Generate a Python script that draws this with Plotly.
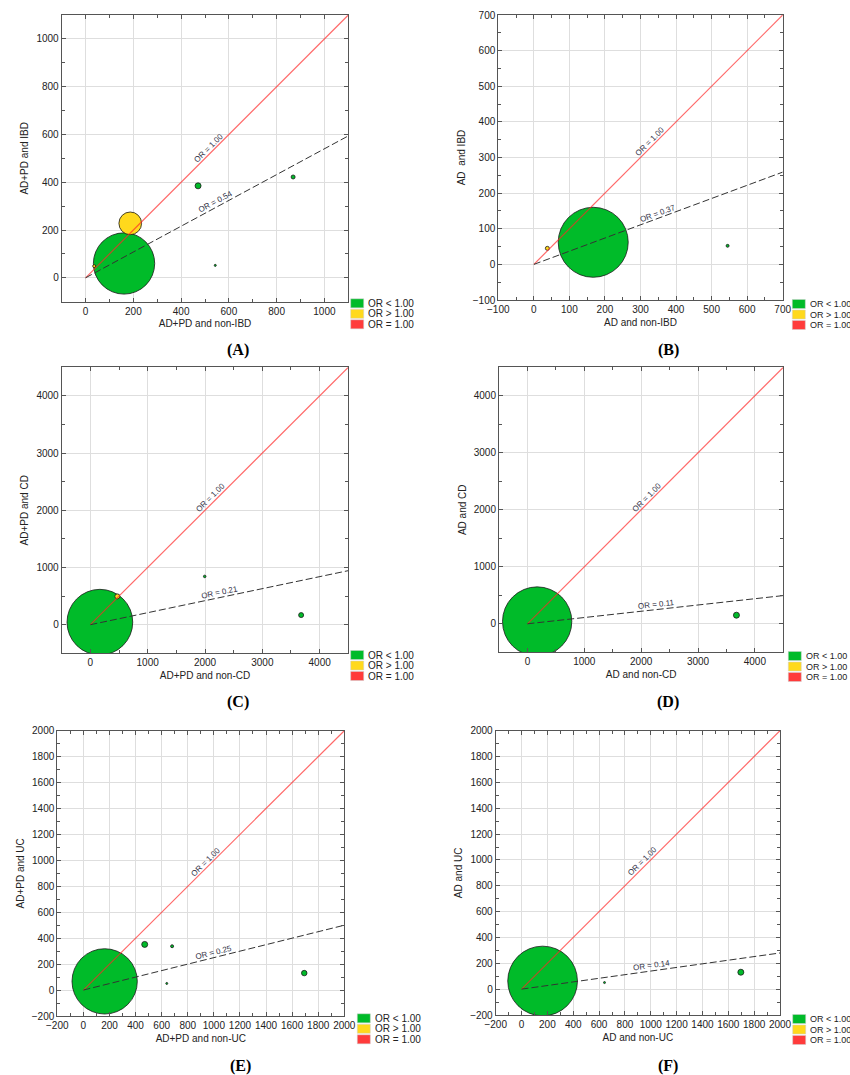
import math
import plotly.graph_objects as go

# ---------------- data ----------------
categories = ["OR < 1.00", "OR > 1.00", "OR = 1.00"]
panel_letters = ["A", "B", "C", "D", "E", "F"]
x_titles = ["AD+PD and non-IBD", "AD and non-IBD", "AD+PD and non-CD",
            "AD and non-CD", "AD+PD and non-UC", "AD and non-UC"]
y_titles = ["AD+PD and IBD", "AD  and IBD", "AD+PD and CD",
            "AD and CD", "AD+PD and UC", "AD and UC"]
or_values = [0.54, 0.37, 0.21, 0.11, 0.25, 0.14]
or_ref_value = 1.00
axis_min = [-100, -100, -500, -500, -200, -200]
axis_max = [1100, 700, 4500, 4500, 2000, 2000]
tick_step = [200, 100, 1000, 1000, 200, 200]
minor_step = [100, 50, 500, 500, 100, 100]

# bubble data (x, y, relative weight)
A_x = [161, 187, 471, 869, 543, 36]
A_y = [60, 228, 385, 422, 52, 49]
A_w = [100, 13.7, 0.96, 0.43, 0.11, 0.24]

B_x = [167, 38, 545]
B_y = [62, 45, 52]
B_w = [100, 0.33, 0.18]

C_x = [166, 471, 1995, 3677]
C_y = [44, 495, 844, 168]
C_w = [100, 0.58, 0.15, 0.58]

D_x = [171, 3676]
D_y = [40, 151]
D_w = [100, 0.75]

E_x = [163, 470, 680, 639, 1693]
E_y = [67, 352, 338, 51, 131]
E_w = [100, 0.84, 0.21, 0.05, 0.71]

F_x = [163, 642, 1697]
F_y = [63, 51, 131]
F_w = [100, 0.08, 0.74]

panels_x = [A_x, B_x, C_x, D_x, E_x, F_x]
panels_y = [A_y, B_y, C_y, D_y, E_y, F_y]
panels_w = [A_w, B_w, C_w, D_w, E_w, F_w]

# ---------------- styling / layout ----------------
W, H = 850, 1075
cat_colors = {"OR < 1.00": "#00BB29", "OR > 1.00": "#FFD91C", "OR = 1.00": "#FF3B3B"}
# plot rectangles in pixels: left, top, right, bottom
rects = [(61.7, 15, 348.3, 301.7), (498.3, 15, 782.7, 300),
         (61.7, 367.3, 348.3, 653.3), (499, 367.3, 783.3, 652.3),
         (57.3, 730.7, 344.3, 1016), (495.7, 730.7, 780, 1015)]
max_diam = [61.3, 70, 65.7, 69.3, 65.3, 69.7]
label_pos = [(238, 350), (668, 350), (238, 702), (668, 702), (240, 1066), (668, 1066)]
legend_xy = [(350.7, 303.3), (792.3, 304), (350.7, 655), (788.3, 656),
             (357.3, 1018.3), (792.7, 1019)]
legend_font = [10, 9, 10, 9, 10, 9]

FONT = "Liberation Sans, Arial, sans-serif"
fig = go.Figure()
shapes, annotations = [], []
layout = dict(width=W, height=H, margin=dict(l=0, r=0, t=0, b=0, autoexpand=False),
              template="none",
              paper_bgcolor="white", plot_bgcolor="white", showlegend=False,
              font=dict(family=FONT, size=10, color="#222"))

for i in range(6):
    n = "" if i == 0 else str(i + 1)
    xa, ya = "x" + n, "y" + n
    L, T, R, B = rects[i]
    lo, hi = axis_min[i], axis_max[i]
    common = dict(range=[lo, hi], tick0=0, dtick=tick_step[i], showgrid=True,
                  gridcolor="#dedede", gridwidth=1, zeroline=False, automargin=False,
                  showline=True, linecolor="#555", linewidth=1, mirror="allticks",
                  ticks="inside", ticklen=4, tickcolor="#555",
                  minor=dict(dtick=minor_step[i], ticks="inside", ticklen=3,
                             tickcolor="#555", showgrid=False),
                  tickfont=dict(family=FONT, size=10, color="#222"))
    layout["xaxis" + n] = dict(common, domain=[L / W, R / W], anchor=ya,
                               title=dict(text=x_titles[i], standoff=4,
                                          font=dict(family=FONT, size=10, color="#222")))
    layout["yaxis" + n] = dict(common, domain=[1 - B / H, 1 - T / H], anchor=xa,
                               title=dict(text=y_titles[i], standoff=5,
                                          font=dict(family=FONT, size=10, color="#222")))

    # bubbles
    xs, ys, ws = panels_x[i], panels_y[i], panels_w[i]
    cats = [categories[1] if y > x else categories[0] for x, y in zip(xs, ys)]
    sizeref = 2 * 100 / max_diam[i] ** 2
    fig.add_trace(go.Scatter(
        x=xs, y=ys, mode="markers", xaxis=xa, yaxis=ya, cliponaxis=True,
        marker=dict(size=ws, sizemode="area", sizeref=sizeref, sizemin=1,
                    color=[cat_colors[c] for c in cats],
                    line=dict(color="#1a1a1a", width=0.8), opacity=1),
        hoverinfo="skip"))

    # OR reference lines
    fig.add_trace(go.Scatter(x=[0, hi], y=[0, or_ref_value * hi], mode="lines",
                             xaxis=xa, yaxis=ya,
                             line=dict(color="rgba(255,40,40,0.7)", width=1.2),
                             hoverinfo="skip"))
    fig.add_trace(go.Scatter(x=[0, hi], y=[0, or_values[i] * hi], mode="lines",
                             xaxis=xa, yaxis=ya,
                             line=dict(color="#333", width=1, dash="7px,3px"),
                             hoverinfo="skip"))

    ppx = (R - L) / (hi - lo)
    ppy = (B - T) / (hi - lo)
    for slope, frac, txt in [(or_ref_value, 0.48, "OR = %.2f" % or_ref_value),
                             (or_values[i], 0.505, "OR = %.2f" % or_values[i])]:
        ang = math.atan(slope * ppy / ppx)
        xv = frac * hi
        d = 5
        annotations.append(dict(
            x=xv, y=slope * xv, xref=xa, yref=ya, text=txt, showarrow=False,
            textangle=-math.degrees(ang), xanchor="center", yanchor="middle",
            xshift=-math.sin(ang) * d, yshift=math.cos(ang) * d,
            font=dict(family=FONT, size=8, color="#333348")))

    # legend (manual)
    sw_l, cy0 = legend_xy[i]
    sw_w, sw_h, row = 13, 9, 10.5
    for k, c in enumerate(categories):
        cy = cy0 + k * row
        shapes.append(dict(type="rect", xref="paper", yref="paper",
                           x0=sw_l / W, x1=(sw_l + sw_w) / W,
                           y0=1 - (cy + sw_h / 2) / H, y1=1 - (cy - sw_h / 2) / H,
                           fillcolor=cat_colors[c], line=dict(color="#cfcfcf", width=0.5)))
        annotations.append(dict(x=(sw_l + sw_w + 2.5) / W, y=1 - cy / H,
                                xref="paper", yref="paper", text=c, showarrow=False,
                                xanchor="left", yanchor="middle",
                                font=dict(family=FONT, size=legend_font[i], color="#222")))

    # panel label
    lx, ly = label_pos[i]
    annotations.append(dict(x=lx / W, y=1 - ly / H, xref="paper", yref="paper",
                            text="<b>(%s)</b>" % panel_letters[i], showarrow=False,
                            xanchor="center", yanchor="middle",
                            font=dict(family="Liberation Serif, Times New Roman, serif",
                                      size=16, color="#000")))

layout["shapes"] = shapes
layout["annotations"] = annotations
fig.update_layout(**layout)
fig.write_html("out.html", config={"displayModeBar": False},
               post_script="document.body.style.margin='0px';"
                           "document.body.style.overflow='hidden';")
